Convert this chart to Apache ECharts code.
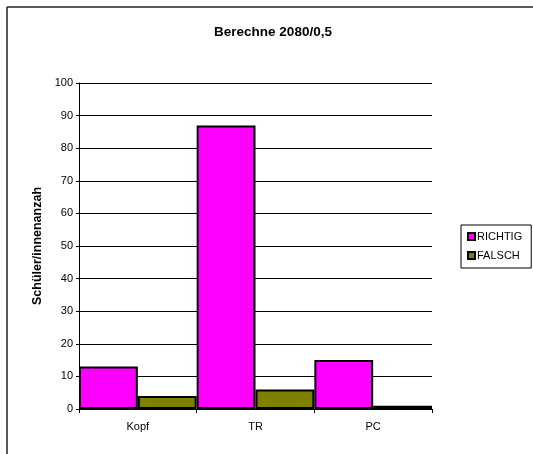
<!DOCTYPE html>
<html>
<head>
<meta charset="utf-8">
<script src="https://cdn.jsdelivr.net/npm/echarts@6/dist/echarts.min.js"></script>
<style>
  html, body { margin: 0; padding: 0; background: #fff; }
  #chart { width: 533px; height: 454px; }
</style>
</head>
<body>
<div id="chart"></div>
<script>
// Ergebnisse der Aufgabe "Berechne 2080/0,5" nach Rechenweg
const categories = ['Kopf', 'TR', 'PC'];
const richtig = [13, 87, 15];
const falsch = [4, 6, 1];
const yTicks = { min: 0, max: 100, interval: 10 };

const font = 'Arial, "Liberation Sans", sans-serif';
const chart = echarts.init(document.getElementById('chart'), null, { renderer: 'canvas' });

chart.setOption({
  backgroundColor: '#fff',
  animation: false,
  title: {
    text: 'Berechne 2080/0,5',
    left: 268,
    textAlign: 'center',
    top: 20,
    textStyle: { fontFamily: font, fontSize: 13.5, fontWeight: 'bold', color: '#000' }
  },
  legend: {
    orient: 'vertical',
    left: 461,
    top: 225,
    padding: [6, 9, 7, 6],
    itemGap: 8,
    itemWidth: 7,
    itemHeight: 7,
    icon: 'rect',
    borderColor: '#000',
    borderWidth: 1,
    textStyle: { fontFamily: font, fontSize: 11, color: '#000', padding: [0, 0, 0, -3] },
    data: ['RICHTIG', 'FALSCH']
  },
  grid: { left: 79, right: 101, top: 83, bottom: 45 },
  xAxis: {
    type: 'category',
    data: categories,
    boundaryGap: true,
    axisLine: { lineStyle: { color: '#000', width: 1 } },
    axisTick: { show: true, length: 4, lineStyle: { color: '#000' } },
    axisLabel: { fontFamily: font, fontSize: 11, color: '#000', margin: 12 }
  },
  yAxis: {
    type: 'value',
    min: yTicks.min,
    max: yTicks.max,
    interval: yTicks.interval,
    name: 'Schüler/innenanzah',
    nameLocation: 'middle',
    nameGap: 29,
    nameRotate: 90,
    nameTextStyle: { fontFamily: font, fontSize: 12.5, fontWeight: 'bold', color: '#000' },
    axisLine: { show: true, lineStyle: { color: '#000', width: 1 } },
    axisTick: { show: true, length: 3, lineStyle: { color: '#000' } },
    axisLabel: { fontFamily: font, fontSize: 11, color: '#000', margin: 6 },
    splitLine: { show: true, lineStyle: { color: '#000', width: 1 } }
  },
  series: [
    {
      name: 'RICHTIG',
      type: 'bar',
      data: richtig,
      barGap: '0%',
      barCategoryGap: '0%',
      itemStyle: { color: '#FF00FF', borderColor: '#000', borderWidth: 2 }
    },
    {
      name: 'FALSCH',
      type: 'bar',
      data: falsch,
      barGap: '0%',
      barCategoryGap: '0%',
      itemStyle: { color: '#808000', borderColor: '#000', borderWidth: 2 }
    }
  ],
  graphic: [
    { type: 'line', shape: { x1: 7, y1: 7, x2: 533, y2: 7 }, style: { stroke: '#222', lineWidth: 1.5 } },
    { type: 'line', shape: { x1: 7, y1: 7, x2: 7, y2: 454 }, style: { stroke: '#222', lineWidth: 1.5 } }
  ]
});
</script>
</body>
</html>
